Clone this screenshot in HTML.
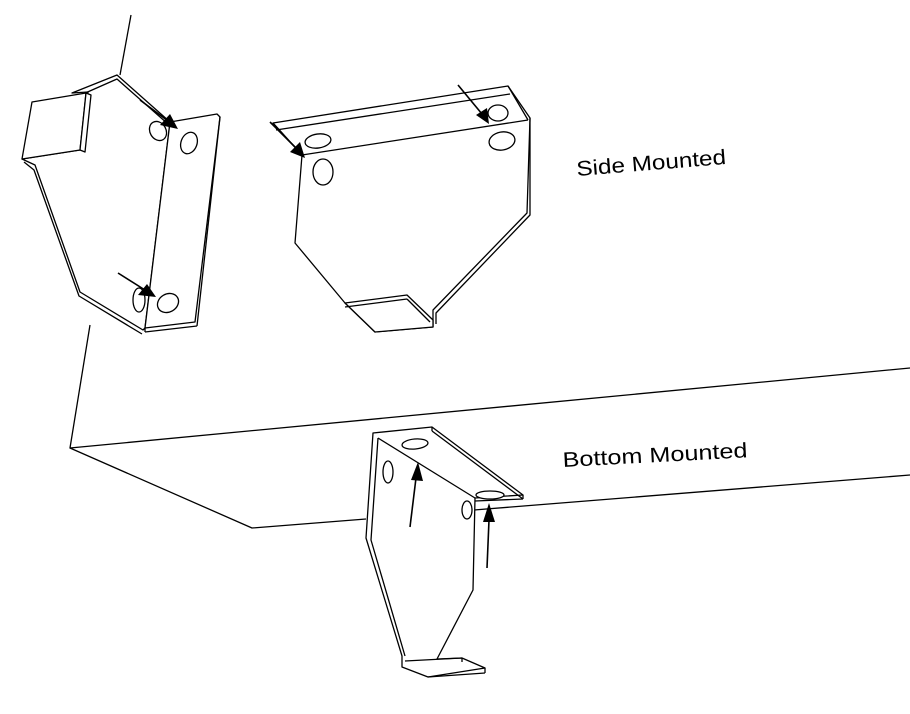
<!DOCTYPE html>
<html><head><meta charset="utf-8"><style>html,body{margin:0;padding:0;background:#fff}svg{display:block}</style></head>
<body>
<svg width="910" height="714" viewBox="0 0 910 714" xmlns="http://www.w3.org/2000/svg">
<g fill="#fff" stroke="#000" stroke-width="1.3" stroke-linejoin="round">
<!-- box -->
<polyline fill="none" points="131,15 120,75"/>
<polyline fill="none" points="90,325 70,448 910,368"/>
<polyline fill="none" points="70,448 252,528 366,519"/>
<polyline fill="none" points="474,510 910,475"/>

<!-- left bracket -->
<polygon points="72,93 117,75 170,122 145,328 143,330 80,292 35,165 22,159 80,150 88,92"/>
<polyline fill="none" points="74,98 117,79 168,124"/>
<polyline fill="none" points="24,162 34,170 79,296 142,334"/>
<polygon points="32,102 86,93 80,150 22,159"/>
<polygon points="86,93 91,95 85,152 80,150"/>
<polygon points="170,122 217,114 220,117 195,322 145,328"/>
<line x1="220" y1="117" x2="197" y2="326"/>
<line x1="145" y1="328" x2="145" y2="332"/>
<line x1="145" y1="332" x2="197" y2="326"/>
<ellipse cx="158" cy="131" rx="8" ry="10" transform="rotate(-30 158 131)"/>
<ellipse cx="189" cy="143" rx="8" ry="11" transform="rotate(20 189 143)"/>
<ellipse cx="139" cy="300" rx="6" ry="12"/>
<ellipse cx="168" cy="303" rx="11" ry="9" transform="rotate(-30 168 303)"/>

<!-- middle bracket -->
<polygon points="273,123 508,86 530,118 527,213 433,310 433,327 375,332 345,303 295,243 302,155"/>
<polyline fill="none" points="276,130 510,94"/>
<line x1="273" y1="123" x2="302" y2="155"/>
<line x1="302" y1="155" x2="528" y2="120"/>
<line x1="508" y1="86" x2="528" y2="120"/>
<polyline fill="none" points="530,118 530,215 436,313 436,324"/>
<polygon points="345,303 407,295 433,320 433,327 375,332"/>
<line x1="345" y1="307" x2="407" y2="299"/>
<line x1="407" y1="299" x2="430" y2="322"/>
<ellipse cx="318" cy="141" rx="13" ry="7" transform="rotate(-8 318 141)"/>
<ellipse cx="323" cy="172" rx="10" ry="13"/>
<ellipse cx="498" cy="113" rx="10" ry="8"/>
<ellipse cx="502" cy="141" rx="13" ry="9" transform="rotate(-10 502 141)"/>

<!-- bottom bracket -->
<polygon points="373,433 432,427 523,495 475,498 473,590 437,659 462,658 485,668 428,677 402,667 402,656 366,538"/>
<line x1="378" y1="438" x2="475" y2="498"/>
<line x1="432" y1="427" x2="432" y2="431"/>
<line x1="432" y1="431" x2="523" y2="499"/>
<line x1="523" y1="495" x2="523" y2="499"/>
<line x1="475" y1="501" x2="523" y2="499"/>
<polyline fill="none" points="378,438 371,540 405,656"/>
<line x1="405" y1="661" x2="462" y2="658"/>
<line x1="462" y1="658" x2="462" y2="662"/>
<line x1="428" y1="677" x2="485" y2="673"/>
<line x1="485" y1="668" x2="485" y2="673"/>
<ellipse cx="415" cy="444" rx="13" ry="5" transform="rotate(-5 415 444)"/>
<ellipse cx="388" cy="472" rx="5" ry="11"/>
<ellipse cx="490" cy="495" rx="14" ry="4"/>
<ellipse cx="467" cy="510" rx="5" ry="9"/>
</g>
<!-- arrows -->
<g stroke="#000" stroke-width="1.6">
<line x1="140" y1="100" x2="168" y2="121"/>
<line x1="118" y1="273" x2="145" y2="290"/>
<line x1="270" y1="122" x2="296" y2="148"/>
<line x1="458" y1="85" x2="482" y2="114"/>
<line x1="410" y1="527" x2="416" y2="478"/>
<line x1="487" y1="568" x2="489" y2="520"/>
</g>
<g fill="#000">
<polygon points="178,129 160,125 170,114"/>
<polygon points="156,297 138,295 147,284"/>
<polygon points="305,158 290,152 300,142"/>
<polygon points="489,124 476,115 487,108"/>
<polygon points="418,462 411,480 423,481"/>
<polygon points="489,503 483,522 495,522"/>
</g>
<g font-family="'Liberation Sans', sans-serif" font-size="21" fill="#000">
<text x="577" y="176" transform="rotate(-4.6 577 176)" textLength="150" lengthAdjust="spacingAndGlyphs">Side Mounted</text>
<text x="563" y="467" transform="rotate(-3 563 467)" textLength="185" lengthAdjust="spacingAndGlyphs">Bottom Mounted</text>
</g>
</svg>
</body></html>
